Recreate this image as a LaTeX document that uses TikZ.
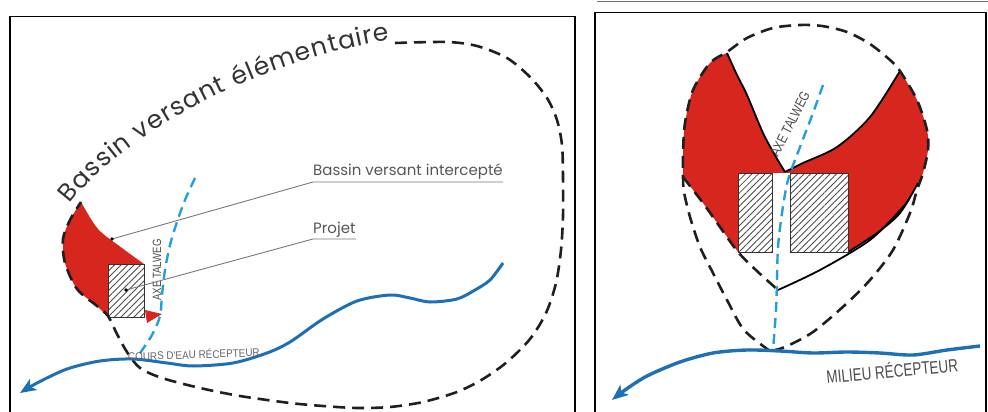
\documentclass[tikz,border=0pt]{standalone}
\usepackage{fontspec}
\setmainfont{Poppins}
\newfontfamily\narrowfont{Liberation Sans}
\usetikzlibrary{decorations.text,patterns.meta,arrows.meta}
\definecolor{redfill}{RGB}{214,38,30}
\definecolor{riverblue}{RGB}{30,112,182}
\definecolor{talblue}{RGB}{38,158,220}
\definecolor{labgray}{RGB}{85,85,85}
\definecolor{leadgray}{RGB}{120,120,120}
\tikzset{
  framebox/.style={draw=black,line width=1.6pt},
  bdash/.style={draw=black!88,line width=2.6pt,dash pattern=on 12pt off 7pt},
  tdash/.style={draw=talblue,line width=2.4pt,dash pattern=on 10pt off 6pt},
  riverline/.style={draw=riverblue,line width=3pt,-{Stealth[length=16pt,width=13pt,inset=4pt]}},
  solidedge/.style={draw=black,line width=1.8pt},
  leader/.style={draw=leadgray,line width=0.9pt},
  hatchbox/.style={preaction={fill=white},pattern={Lines[angle=45,distance=4.6pt,line width=0.8pt]},pattern color=black!70,draw=black!80,line width=0.9pt},
  label/.style={text=labgray,inner sep=0pt,font=\fontsize{15}{15}\selectfont},
  caplabel/.style={text=black!70,inner sep=0pt}
}
\begin{document}
\begin{tikzpicture}[x=1pt,y=-1pt]
\useasboundingbox (0,0) rectangle (988,412);

% ---------------- LEFT PANEL ----------------
\draw[framebox] (10,16.5) rectangle (575,430);

% red intercepted basin
\fill[redfill] plot[smooth] coordinates {(81,202) (98,229) (122,248) (144,264)} -- (144,317) -- (108,317)
  -- plot[smooth] coordinates {(108,317) (97,306) (77,289) (65,263) (63,239) (70,220) (81,202)} -- cycle;

% project box
\path[hatchbox] (108,264) rectangle (144,317);

% basin outline
\draw[bdash] plot[smooth] coordinates {(395,43) (447,42) (477,46) (507,58) (530,77) (547,98) (557,120) (562,145) (563,177) (563,216) (561,250) (556,283) (546,313) (530,339) (507,362) (483,379) (457,392) (423,402) (390,407) (357,408) (323,406) (290,403) (240,396) (200,388) (162,378) (140,368) (127,352) (117,334) (108,316) (97,306) (77,289) (65,263) (63,239) (70,220) (81,202)};

% basin title along the outline
\path[decorate,decoration={text along path,text align={fit to path},
  text={|\fontsize{25}{25}\selectfont\color{black!80}|Bassin versant élémentaire}}]
  (70,204) .. controls (118,140) and (250,62) .. (390,40);

% talweg axis
\draw[tdash] plot[smooth] coordinates {(195,178) (185,200) (177,222) (170,245) (165,270) (162,295) (160,316) (152,335) (138,356)};
\node[caplabel,rotate=90,font=\narrowfont\fontsize{12}{12}\selectfont] (axeL) at (157,270) {\scalebox{0.8}[1]{AXE TALWEG}};

% red outlet arrow
\fill[redfill] (145,310) -- (162,314) -- (147,323) -- cycle;

% river
\draw[riverline] plot[smooth] coordinates {(503,263) (490,280) (475,290) (457,299) (430,302) (410,298) (390,295) (357,301) (323,319) (290,342) (267,353) (233,363) (193,366) (167,363) (133,359) (100,361) (67,369) (37,383) (20,393)};
\node[caplabel,text=black!60,anchor=base west,rotate=2,font=\narrowfont\fontsize{11}{11}\selectfont] (coursL) at (128,361) {\scalebox{0.9}[1]{COURS D'EAU RÉCEPTEUR}};

% labels and leaders
\node[label,anchor=base west] (bvi) at (313,175) {Bassin versant intercepté};
\node[label,anchor=base west] (proj) at (313,233) {Projet};
\coordinate (redpt) at (112,239);
\coordinate (boxpt) at (126,290);
\draw[leader] ([yshift=-7pt]bvi.base east) -- ([yshift=-7pt]bvi.base west) -- (redpt);
\draw[leader] ([yshift=-6pt]proj.base east) -- ([yshift=-6pt]proj.base west) -- (boxpt);
\fill[black] (redpt) circle (1.8pt);
\fill[black] (boxpt) circle (1.8pt);

% ---------------- RIGHT PANEL ----------------
\draw[line width=1.2pt,black!55] (597,1.2) -- (990,1.2);
\draw[framebox,line width=1.4pt] (595,12.5) rectangle (986,430);

% red zones
\fill[redfill] plot[smooth] coordinates {(727,53) (737,75) (747,95) (763,133) (776,157) (785,172)}
 -- plot[smooth] coordinates {(785,172) (803,163) (837,147) (870,117) (900,71)}
 -- plot[smooth] coordinates {(900,71) (917,100) (927,130) (928,150) (923,173) (918,183)}
 -- plot[smooth] coordinates {(918,183) (900,213) (877,233) (848,252)}
 -- (738,252)
 -- plot[smooth] coordinates {(738,252) (720,227) (703,203) (683,177)}
 -- plot[smooth] coordinates {(683,177) (683,153) (685,123) (693,90) (710,63) (727,53)} -- cycle;
% white gap between the two buildings
\fill[white] (772,173) rectangle (790,253);

% solid edges
\draw[solidedge] plot[smooth] coordinates {(727,53) (737,75) (747,95) (763,133) (776,157) (785,172)};
\draw[solidedge] plot[smooth] coordinates {(785,172) (803,163) (837,147) (870,117) (900,71)};
\draw[solidedge] plot[smooth] coordinates {(918,183) (900,213) (877,233) (848,252)};
\draw[solidedge] plot[smooth] coordinates {(910,197) (903,207) (870,240) (820,270) (778,290)};

% dashed outlines
\draw[bdash] plot[smooth] coordinates {(770,351) (744,330) (727,300) (713,273) (700,247) (690,217) (684,192) (683,177) (683,153) (685,123) (693,90) (710,63) (727,52) (747,38) (773,28) (800,25) (822,26) (847,32) (870,44) (890,60) (900,71) (917,100) (927,130) (928,150) (923,173) (917,190) (910,213) (893,250) (870,280) (845,305) (813,332) (785,347) (770,351)};
\draw[bdash] plot[smooth] coordinates {(683,177) (703,203) (720,227) (738,252) (758,272) (778,290)};

% project boxes
\path[hatchbox] (738,173) rectangle (772,252);
\path[hatchbox] (790,173) rectangle (848,252);

% talweg
\draw[tdash] plot[smooth] coordinates {(823,85) (813,113) (800,147) (788,180) (782,213) (778,247) (777,280) (776,310) (773,350)};
\node[caplabel,anchor=base west,rotate=63,font=\narrowfont\fontsize{14}{14}\selectfont] (axeR) at (778,158) {\scalebox{0.8}[1]{AXE TALWEG}};

% receiving water
\draw[riverline,line width=3.4pt] plot[smooth] coordinates {(980,346) (947,350) (913,355) (880,353) (847,352) (813,353) (780,351) (747,350) (713,353) (680,362) (647,376) (625,390) (612,400)};
\node[caplabel,text=black!70,anchor=base west,rotate=5.5,font=\narrowfont\fontsize{18}{18}\selectfont] (milieu) at (827,384) {\scalebox{0.75}[1]{MILIEU RÉCEPTEUR}};
\end{tikzpicture}
\end{document}
